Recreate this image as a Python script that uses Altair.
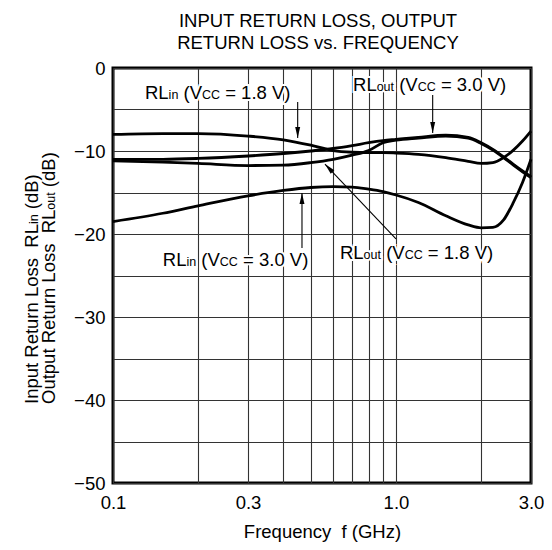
import altair as alt
import pandas as pd

# ---------------- data ----------------
freq = [0.1, 0.15, 0.2, 0.3, 0.4, 0.5, 0.6, 0.7, 0.8, 0.9, 1.0, 1.2, 1.5, 1.8, 2.0, 2.2, 2.4, 2.6, 2.8, 3.0]
rl_in_1v8 = [-8.0, -7.9, -7.9, -8.2, -8.65, -9.3, -9.95, -10.15, -10.2, -10.2, -10.25, -10.4, -10.8, -11.25, -11.5, -11.4, -10.8, -9.9, -8.8, -7.6]
rl_out_3v0 = [-11.0, -11.0, -10.9, -10.6, -10.3, -10.0, -9.7, -9.35, -9.0, -8.75, -8.6, -8.35, -8.1, -8.35, -9.0, -9.8, -10.7, -11.6, -12.4, -13.1]
rl_out_1v8 = [-11.2, -11.35, -11.5, -11.75, -11.7, -11.4, -11.0, -10.5, -9.95, -9.0, -8.7, -8.45, -8.2, -8.45, -9.1, -9.9, -10.8, -11.7, -12.5, -13.2]
rl_in_3v0 = [-18.5, -17.5, -16.6, -15.4, -14.75, -14.4, -14.3, -14.35, -14.6, -14.9, -15.3, -16.2, -17.8, -18.9, -19.25, -19.2, -18.3, -16.2, -13.8, -11.0]
series_names = ["RLin 1.8V", "RLout 3.0V", "RLout 1.8V", "RLin 3.0V"]

x_grid = [0.1, 0.2, 0.3, 0.4, 0.5, 0.6, 0.7, 0.8, 0.9, 1.0, 2.0, 3.0]
x_labels = [0.1, 0.3, 1.0, 3.0]
y_grid = [-50, -45, -40, -35, -30, -25, -20, -15, -10, -5, 0]

# annotation labels (left start, baseline)
lab_f = [0.1297, 0.705, 0.150, 0.634]
lab_db = [-3.73, -2.77, -23.86, -23.0]
lab_sub = ["in", "out", "in", "out"]
lab_volt = ["1.8", "3.0", "3.0", "1.8"]

# annotation arrows (start -> tip)
arr_f = [0.4494, 1.348, 0.4654, 1.0]
arr_db = [-4.1, -3.25, -21.7, -20.6]
arr_f2 = [0.4494, 1.348, 0.4654, 0.561]
arr_db2 = [-8.43, -7.83, -15.06, -11.57]
arr_ang = [180, 180, 0, 316.6]

# ---------------- styling ----------------
FONT = "Liberation Sans"
BIG = 18.5
SMALL = 12.5
NBSP = "\u00a0"
W = {' ': 0.278, '(': 0.333, ')': 0.333, '.': 0.278, '=': 0.584, 'B': 0.667, 'C': 0.722,
     'I': 0.278, 'L': 0.556, 'O': 0.778, 'R': 0.722, 'V': 0.667, 'd': 0.556, 'e': 0.556,
     'i': 0.222, 'n': 0.556, 'o': 0.556, 'p': 0.556, 'r': 0.333, 's': 0.5, 't': 0.278, 'u': 0.556}
for ch in "0123456789":
    W[ch] = 0.556


def tw(s, size):
    return sum(W.get(c, 0.556) for c in s) * size


def split_lead(s, size):
    """Return text without leading spaces and the pixel width of those spaces."""
    stripped = s.lstrip(" ")
    lead = len(s) - len(stripped)
    return stripped.replace(" ", NBSP), tw(" " * lead, size)


rows = []
for name, vals in zip(series_names, [rl_in_1v8, rl_out_3v0, rl_out_1v8, rl_in_3v0]):
    for f, v in zip(freq, vals):
        rows.append({"f": f, "db": v, "series": name})
curves = pd.DataFrame(rows)

xs = alt.Scale(type="log", domain=[0.1, 3.0], nice=False)
ys = alt.Scale(domain=[-50, 0], nice=False)

xaxis = alt.Axis(
    values=x_grid,
    labelExpr="indexof([0.1,0.3,1,3], datum.value) >= 0 ? format(datum.value, '.1f') : ''",
    grid=True, gridColor="#333", gridWidth=1.1, gridOpacity=1,
    ticks=False, tickSize=0, domain=False,
    labelFont=FONT, labelFontSize=BIG, labelColor="black", labelPadding=10,
    labelFlush=False, labelOverlap=False,
    title="Frequency" + NBSP + NBSP + "f (GHz)", titleFont=FONT, titleFontSize=BIG,
    titleFontWeight="normal", titleColor="black", titleY=54, titleBaseline="alphabetic",
)
yaxis = alt.Axis(
    values=y_grid,
    labelExpr="datum.value % 10 === 0 ? (datum.value < 0 ? '\u2212' + format(-datum.value, 'd') : '0') : ''",
    grid=True, gridColor="#333", gridWidth=1.1, gridOpacity=1,
    ticks=False, tickSize=0, domain=False,
    labelFont=FONT, labelFontSize=BIG, labelColor="black", labelPadding=8,
    labelOverlap=False, title="",
)
X = alt.X("f:Q", scale=xs, axis=xaxis)
Y = alt.Y("db:Q", scale=ys, axis=yaxis)

halos = []
texts = []
for i in range(4):
    segs = [("RL", BIG), (lab_sub[i], SMALL), (" (V", BIG), ("CC", SMALL), (" = " + lab_volt[i] + " V)", BIG)]
    dx = 0.0
    for s, size in segs:
        txt, lead = split_lead(s, size)
        d = pd.DataFrame({"f": [lab_f[i]], "db": [lab_db[i]], "t": [txt]})
        base = alt.Chart(d).encode(x=X, y=Y, text="t:N")
        halos.append(base.mark_text(align="left", baseline="alphabetic", dx=dx + lead, fontSize=size,
                                    font=FONT, fill="white", stroke="white", strokeWidth=4))
        texts.append(base.mark_text(align="left", baseline="alphabetic", dx=dx + lead, fontSize=size,
                                    font=FONT, fill="black"))
        dx += tw(s, size)

lines = alt.Chart(curves).mark_line(color="black", strokeWidth=2.8, interpolate="monotone").encode(
    x=X, y=Y, detail="series:N")

arrows = pd.DataFrame({"f": arr_f, "db": arr_db, "f2": arr_f2, "db2": arr_db2, "ang": arr_ang})
shafts = alt.Chart(arrows).mark_rule(color="black", strokeWidth=1.1).encode(
    x=X, y=Y, x2="f2:Q", y2="db2:Q")
heads_df = pd.DataFrame({"f": arr_f2, "db": arr_db2, "ang": arr_ang})
heads = alt.Chart(heads_df).mark_point(
    shape="M0,0L0.45,2L-0.45,2Z", size=121, filled=True, color="black", opacity=1
).encode(x=X, y=Y, angle=alt.Angle("ang:Q", scale=None))

# rotated y-axis title with small subscripts
ytitle = []
one = pd.DataFrame({"k": [0]})
for xpos, segs in [(-75, [("Input Return Loss  RL", BIG), ("in", SMALL), (" (dB)", BIG)]),
                   (-58, [("Output Return Loss  RL", BIG), ("out", SMALL), (" (dB)", BIG)])]:
    dx = 0.0
    for s, size in segs:
        txt, lead = split_lead(s, size)
        ytitle.append(alt.Chart(one).mark_text(
            angle=270, align="left", baseline="alphabetic", dx=dx + lead, fontSize=size, font=FONT,
            fill="black").encode(x=alt.value(xpos), y=alt.value(336), text=alt.value(txt)))
        dx += tw(s, size)

chart = alt.layer(*halos, lines, shafts, heads, *texts, *ytitle).properties(
    width=418, height=415,
    autosize=alt.AutoSizeParams(type="none"),
    padding={"left": 105, "top": 60, "right": 13, "bottom": 59},
    title=alt.TitleParams(
        text=["INPUT RETURN LOSS, OUTPUT", "RETURN LOSS vs. FREQUENCY"],
        font=FONT, fontSize=BIG, fontWeight="normal", color="black",
        lineHeight=22, offset=7, anchor="middle", frame="group", dx=-4),
    background="white",
).configure_view(stroke="black", strokeWidth=3)

chart.save("out.html", embed_options={"renderer": "svg", "actions": False})
